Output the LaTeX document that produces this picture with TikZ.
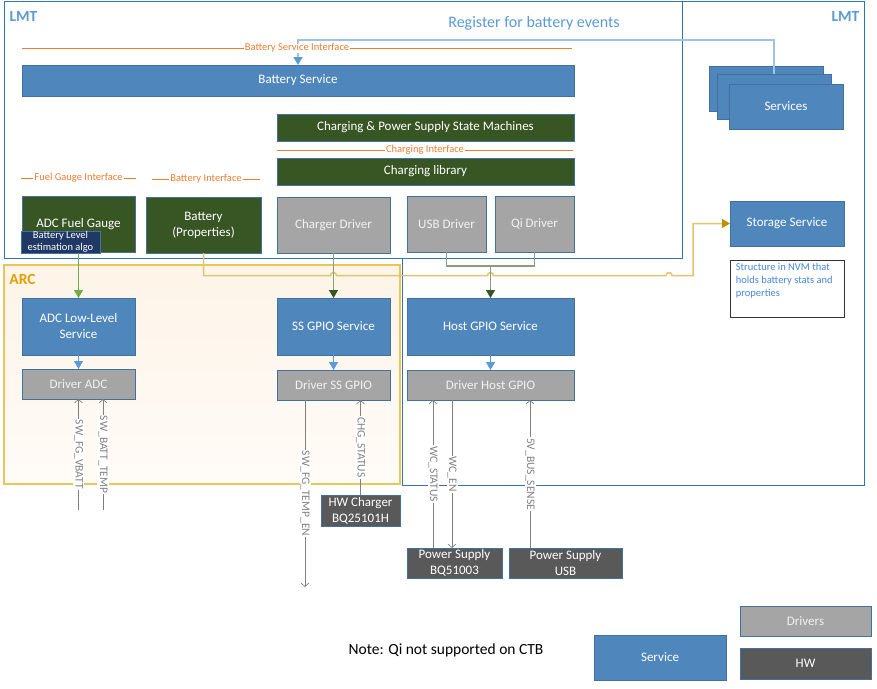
\documentclass[tikz,border=0pt]{standalone}
\usepackage{fontspec}
\setmainfont{Carlito}
\usetikzlibrary{arrows.meta,shadows}

\definecolor{svcblue}{RGB}{79,135,189}
\definecolor{boxedge}{RGB}{65,113,156}
\definecolor{libgreen}{RGB}{55,86,35}
\definecolor{drvgray}{RGB}{165,165,165}
\definecolor{hwgray}{RGB}{89,89,89}
\definecolor{algonavy}{RGB}{31,56,100}
\definecolor{ifaceorange}{RGB}{237,125,49}
\definecolor{lmtblue}{RGB}{46,117,182}
\definecolor{lmttext}{RGB}{91,155,213}
\definecolor{reglight}{RGB}{157,195,230}
\definecolor{arrowblue}{RGB}{91,155,213}
\definecolor{storegold}{RGB}{226,196,110}
\definecolor{storetip}{RGB}{191,144,0}
\definecolor{arcgold}{RGB}{235,196,90}
\definecolor{arctext}{RGB}{228,160,0}
\definecolor{arcfill}{RGB}{254,244,232}
\definecolor{linkgreen}{RGB}{135,160,120}
\definecolor{fgreen}{RGB}{112,173,71}
\definecolor{siggray}{RGB}{128,128,128}
\definecolor{nvmtext}{RGB}{70,135,215}

\begin{document}
\begin{tikzpicture}
[
  x=1pt, y=-1pt,
  >={Triangle[length=8pt,width=9pt]},
  blk/.style = {draw=boxedge, line width=0.6pt, inner sep=0pt, outer sep=0pt,
    text=white, align=center, font=\fontsize{13}{16}\selectfont,
    drop shadow={shadow xshift=1.2pt, shadow yshift=-1.2pt, opacity=0.18}},
  svc/.style = {blk, fill=svcblue},
  lib/.style = {blk, fill=libgreen},
  drv/.style = {blk, fill=drvgray, text=white!95!black},
  hw/.style = {blk, fill=hwgray},
  frame/.style = {draw=lmtblue, line width=0.9pt},
  framelabel/.style = {font=\fontsize{15.5}{18}\bfseries\selectfont, inner sep=0pt},
  iface/.style = {draw=ifaceorange, line width=0.6pt},
  iflabel/.style = {fill=white, text=ifaceorange, inner sep=1pt,
    font=\fontsize{10.5}{12}\selectfont},
  svclink/.style = {draw=arrowblue, line width=1.4pt, -{Triangle[length=8pt,width=9pt]}},
  reglink/.style = {draw=reglight, line width=1.5pt,
    -{Triangle[length=8pt,width=9pt,color=arrowblue]}},
  drvlink/.style = {draw=linkgreen, line width=1.5pt,
    -{Triangle[length=8pt,width=9pt,color=libgreen]}},
  joinline/.style = {draw=linkgreen, line width=1.2pt},
  fglink/.style = {draw=fgreen, line width=1.2pt, -{Triangle[length=8pt,width=9pt]}},
  storelink/.style = {draw=storegold, line width=1.5pt,
    -{Triangle[length=8pt,width=9pt,color=storetip]}},
  sig/.style = {draw=siggray, line width=0.7pt, >={Straight Barb[length=3.5pt,width=8pt]}},
  siglabel/.style = {fill=white, text=siggray, rotate=-90, inner sep=1pt,
    font=\fontsize{11.5}{13}\selectfont},
]

\useasboundingbox (0,0) rectangle (877,688);

% regions
\draw[frame, fill=white] (402,1) rectangle (864,485);
\draw[frame, fill=white] (4,1) rectangle (682,258);
\draw[draw=arcgold, line width=1.2pt, top color=arcfill, bottom color=arcfill!35!white]
  (4,265) rectangle (400,484);
\node (lmtL) at (23.5,16) [framelabel, text=lmttext] {LMT};
\node (lmtR) at (845.5,16) [framelabel, text=lmttext] {LMT};
\node (arc) at (22.5,279) [framelabel, text=arctext] {ARC};
\node (reg) at (534,23) [text=lmttext, font=\fontsize{16}{18}\selectfont] {Register for battery events};

% LMT
\node (BS) at (298,80.5) [svc, minimum width=552, minimum height=31] {Battery Service};
\node (CSM) at (425.5,127.5) [lib, minimum width=297, minimum height=27] {Charging \& Power Supply State Machines};
\node (CL) at (425.5,171.5) [lib, minimum width=297, minimum height=27] {Charging library};
\node (AFG) at (78.5,224) [lib, minimum width=113, minimum height=56] {ADC Fuel Gauge};
\node (BLE) at (60.5,242) [blk, fill=algonavy, minimum width=79, minimum height=22,
  font=\fontsize{10.5}{11.5}\selectfont] {Battery Level\\estimation algo};
\node (BP) at (203.5,225) [lib, minimum width=115, minimum height=56] {Battery\\(Properties)};
\node (CD) at (333.5,225) [drv, minimum width=113, minimum height=56] {Charger Driver};
\node (USB) at (446.5,224) [drv, minimum width=79, minimum height=56] {USB Driver};
\node (Qi) at (534.5,224) [drv, minimum width=79, minimum height=56] {Qi Driver};

\node (svcB) at (766,88.5) [svc, minimum width=114, minimum height=45] {};
\node (svcM) at (774,96.5) [svc, minimum width=114, minimum height=45] {};
\node (svcF) at (786,106.5) [svc, minimum width=114, minimum height=45] {Services};
\node (SS) at (787,223.5) [svc, minimum width=114, minimum height=45] {Storage Service};
\node (nvm) at (787,288.5) [draw=black!80, line width=0.8pt, fill=white, inner sep=0pt,
  minimum width=114, minimum height=57] {};
\node (nvmtxt) at ([xshift=6pt, yshift=-3pt]nvm.north west) [anchor=north west, inner sep=0pt,
  align=left, text=nvmtext, font=\fontsize{10.5}{13}\selectfont]
  {Structure in NVM that\\holds battery stats and\\properties};

% ARC and host
\node (ALL) at (78.5,326.5) [svc, minimum width=113, minimum height=57] {ADC Low-Level\\Service};
\node (SSG) at (333.5,326.5) [svc, minimum width=113, minimum height=57] {SS GPIO Service};
\node (HG) at (490.5,326.5) [svc, minimum width=167, minimum height=57] {Host GPIO Service};
\node (DADC) at (78.5,384) [drv, minimum width=113, minimum height=30] {Driver ADC};
\node (DSS) at (333.5,385) [drv, minimum width=113, minimum height=30] {Driver SS GPIO};
\node (DHG) at (490.5,385) [drv, minimum width=167, minimum height=30] {Driver Host GPIO};

% HW
\node (HWC) at (360.5,510.5) [hw, minimum width=79, minimum height=31] {HW Charger\\BQ25101H};
\node (PSBQ) at (454.5,563) [hw, minimum width=95, minimum height=30] {Power Supply\\BQ51003};
\node (PSU) at (565.5,563) [hw, minimum width=113, minimum height=30] {Power Supply\\USB};

% legend
\node (note) at (446,650) [font=\fontsize{15.5}{18}\selectfont] {Note: Qi not supported on CTB};
\node (legS) at (660,657.5) [svc, minimum width=132, minimum height=45] {Service};
\node (legD) at (805.5,621) [drv, minimum width=131, minimum height=30] {Drivers};
\node (legH) at (805.5,663.5) [hw, minimum width=131, minimum height=31] {HW};

% links
\coordinate (regturn) at (298,40);
\draw[reglink] (svcM.north) |- (regturn) -- (BS.north);

\coordinate (bsiL) at (22,48);
\coordinate (bsiR) at (572,48);
\draw[iface] (bsiL) -- node[iflabel] {Battery Service Interface} (bsiR);
\coordinate (ciL) at (277,150);
\coordinate (ciR) at (573,150);
\draw[iface] (ciL) -- node[iflabel] {Charging Interface} (ciR);
\coordinate (fgiL) at (21,178);
\coordinate (fgiR) at (136,178);
\draw[iface] (fgiL) -- node[iflabel] {Fuel Gauge Interface} (fgiR);
\coordinate (biL) at (152,179);
\coordinate (biR) at (260,179);
\draw[iface] (biL) -- node[iflabel] {Battery Interface} (biR);

\draw[storelink] (BP.south) |- (330.5,275.5) arc[start angle=180, end angle=0, radius=3pt]
  -- (487.5,275.5) arc[start angle=180, end angle=0, radius=3pt]
  -- (666,275.5) arc[start angle=180, end angle=0, radius=3pt]
  -- (693,275.5) |- (SS.west);

\coordinate (usbqi) at (490.5,266);
\draw[joinline] (USB.south) |- (usbqi) -| (Qi.south);
\draw[drvlink] (usbqi) -- (HG.north);
\draw[drvlink] (CD.south) -- (SSG.north);
\draw[fglink] (BLE.south -| AFG.south) -- (ALL.north);

\draw[svclink] (ALL.south) -- (DADC.north);
\draw[svclink] (SSG.south) -- (DSS.north);
\draw[svclink] (HG.south) -- (DHG.north);

% signals
\coordinate (vbatt) at (78.5,510);
\coordinate (btemp) at (103,510);
\coordinate (tempen) at (305,587);
\draw[sig,<-] (DADC.south) -- node[siglabel] {SW\_FG\_VBATT} (vbatt);
\draw[sig,<-] (DADC.south -| btemp) -- node[siglabel] {SW\_BATT\_TEMP} (btemp);
\draw[sig,->] (DSS.south -| tempen) -- node[siglabel] {SW\_FG\_TEMP\_EN} (tempen);
\draw[sig,->] (HWC.north) -- node[siglabel] {CHG\_STATUS} (HWC.north |- DSS.south);
\draw[sig,->] ([xshift=-21.5pt]PSBQ.north) -- node[siglabel] {WC\_STATUS}
  ([xshift=-21.5pt]PSBQ.north |- DHG.south);
\draw[sig,->] ([xshift=-2.5pt]PSBQ.north |- DHG.south) -- node[siglabel] {WC\_EN}
  ([xshift=-2.5pt]PSBQ.north);
\draw[sig,->] ([xshift=-35.5pt]PSU.north) -- node[siglabel] {5V\_BUS\_SENSE}
  ([xshift=-35.5pt]PSU.north |- DHG.south);

\end{tikzpicture}
\end{document}
